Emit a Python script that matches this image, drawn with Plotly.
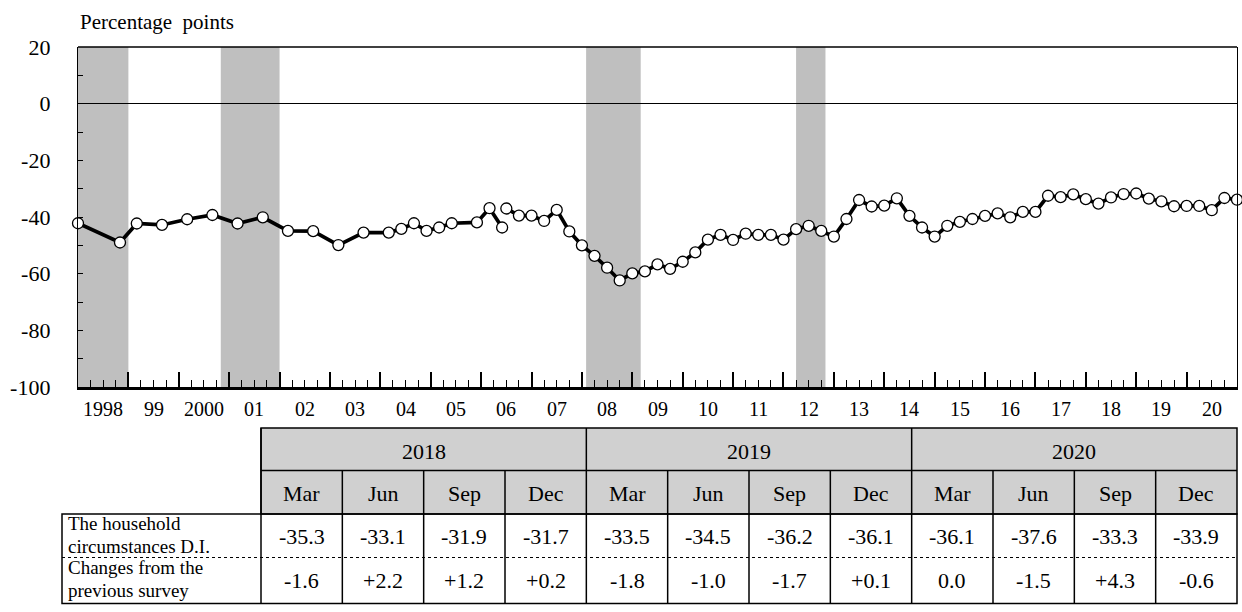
import plotly.graph_objects as go

# ---------------- data ----------------
# older survey series (semi-annual, then quarterly; survey month given)
old_year = [1997, 1998, 1999, 1999, 2000, 2000, 2001, 2001, 2002, 2002, 2003, 2003,
            2004, 2004, 2004, 2004, 2005, 2005, 2005, 2006, 2006]
old_month = [12, 10, 2, 8, 2, 8, 2, 8, 2, 8, 2, 8,
             2, 5, 8, 11, 2, 5, 11, 2, 5]
old_vals = [-42.2, -49.0, -42.3, -42.8, -40.8, -39.3, -42.3, -40.1, -44.9, -45.0, -49.9, -45.5,
            -45.5, -44.2, -42.2, -44.9, -43.7, -42.2, -41.9, -36.9, -43.7]

# current survey series (quarterly, Jun 2006 - Dec 2020)
new_year = [2006, 2006, 2006] + [y for y in range(2007, 2021) for _ in range(4)]
new_month = [6, 9, 12] + [3, 6, 9, 12] * 14
new_vals = [-37.0, -39.5, -39.5,
            -41.4, -37.5, -45.1, -50.0,
            -53.7, -57.9, -62.4, -59.9,
            -59.2, -56.7, -58.3, -55.8,
            -52.5, -48.0, -46.3, -48.1,
            -45.9, -46.3, -46.3, -48.0,
            -44.3, -43.1, -44.9, -46.9,
            -40.7, -34.0, -36.3, -36.0,
            -33.4, -39.6, -43.7, -46.9,
            -43.1, -41.7, -40.7, -39.6,
            -38.7, -40.1, -38.2, -38.2,
            -32.5, -33.0, -32.0, -33.7,
            -35.3, -33.1, -31.9, -31.7,
            -33.5, -34.5, -36.2, -36.1,
            -36.1, -37.6, -33.3, -33.9]

# recession periods (shaded)
rec_start = [(1997, 6), (2000, 11), (2008, 2), (2012, 4)]
rec_end = [(1999, 1), (2002, 1), (2009, 3), (2012, 11)]

year_labels = ["1998", "99", "2000", "01", "02", "03", "04", "05", "06", "07", "08", "09",
               "10", "11", "12", "13", "14", "15", "16", "17", "18", "19", "20"]
first_year = 1998

y_ticks = [20, 0, -20, -40, -60, -80, -100]

# table
table_years = ["2018", "2019", "2020"]
table_months = ["Mar", "Jun", "Sep", "Dec"]
di_vals = ["-35.3", "-33.1", "-31.9", "-31.7", "-33.5", "-34.5", "-36.2", "-36.1",
           "-36.1", "-37.6", "-33.3", "-33.9"]
chg_vals = ["-1.6", "+2.2", "+1.2", "+0.2", "-1.8", "-1.0", "-1.7", "+0.1",
            "0.0", "-1.5", "+4.3", "-0.6"]
row_labels = [["The household", "circumstances D.I."],
              ["Changes from the", "previous survey"]]
y_title = "Percentage&nbsp; points"

# ---------------- figure ----------------
FONT = "Liberation Serif"
W, H = 1242, 612
ML, MR, MT, MB = 78, 5, 47, 225
PW = W - ML - MR
PH = H - MT - MB


def px(x):
    return (x - ML) / PW


def py(y):
    return (H - MB - y) / PH


def t_point(y, m):
    return y + m / 12.0


def t_band(y, m):
    return y + (m - 1) / 12.0


x_min, x_max = first_year, first_year + len(year_labels)

fig = go.Figure()

line_style = dict(color="black", width=3.7)
marker_style = dict(symbol="circle", size=11, color="white",
                    line=dict(color="black", width=1.3))

fig.add_trace(go.Scatter(
    x=[t_point(y, m) for y, m in zip(old_year, old_month)], y=old_vals,
    mode="lines+markers", line=line_style, marker=marker_style,
    cliponaxis=False, showlegend=False, hoverinfo="x+y"))
fig.add_trace(go.Scatter(
    x=[t_point(y, m) for y, m in zip(new_year, new_month)], y=new_vals,
    mode="lines+markers", line=line_style, marker=marker_style,
    cliponaxis=False, showlegend=False, hoverinfo="x+y"))

shapes = []
for (sy, sm), (ey, em) in zip(rec_start, rec_end):
    x0 = max(t_band(sy, sm), x_min)
    x1 = min(t_band(ey, em), x_max)
    shapes.append(dict(type="rect", xref="x", yref="paper", x0=x0, x1=x1, y0=0, y1=1,
                       fillcolor="#bfbfbf", line=dict(width=0), layer="below"))

# top border of plot area
shapes.append(dict(type="line", xref="paper", yref="paper", x0=0, x1=1, y0=1, y1=1,
                   line=dict(color="black", width=1.3)))

annotations = []
# y axis title
annotations.append(dict(text=y_title, xref="paper", yref="paper", x=px(78), y=py(22),
                        xanchor="left", yanchor="middle", showarrow=False,
                        font=dict(family=FONT, size=21, color="black")))
# x axis year labels
for i, lab in enumerate(year_labels):
    annotations.append(dict(text=lab, xref="x", yref="paper", x=first_year + i + 0.5,
                            y=py(409), xanchor="center", yanchor="middle", showarrow=False,
                            font=dict(family=FONT, size=20, color="black")))

# ---------------- table ----------------
T_L, C0_R, T_R = 62, 261, 1237
ROW_Y = [428, 470.5, 514, 557.5, 603.5]
ncol = len(di_vals)
cw = (T_R - C0_R) / ncol
LW = 1.5


def rect(x0, x1, y0, y1, fill=None):
    d = dict(type="rect", xref="paper", yref="paper", x0=px(x0), x1=px(x1),
             y0=py(y0), y1=py(y1), line=dict(color="black", width=LW))
    if fill:
        d["fillcolor"] = fill
    return d


def seg(x0, x1, y0, y1, dash="solid", w=LW):
    return dict(type="line", xref="paper", yref="paper", x0=px(x0), x1=px(x1),
                y0=py(y0), y1=py(y1), line=dict(color="black", width=w, dash=dash))


shapes.append(rect(C0_R, T_R, ROW_Y[0], ROW_Y[2], fill="#d0d0d0"))
shapes.append(rect(T_L, T_R, ROW_Y[2], ROW_Y[4]))
shapes.append(seg(C0_R, T_R, ROW_Y[1], ROW_Y[1]))
shapes.append(seg(T_L, T_R, ROW_Y[3], ROW_Y[3], dash="dot", w=1))
shapes.append(seg(C0_R, C0_R, ROW_Y[0], ROW_Y[4]))
for k in range(1, ncol):
    x = C0_R + k * cw
    top = ROW_Y[0] if k % len(table_months) == 0 else ROW_Y[1]
    shapes.append(seg(x, x, top, ROW_Y[4]))

tfont = dict(family=FONT, size=22, color="black")
for i, yr in enumerate(table_years):
    xc = C0_R + (i * len(table_months) + len(table_months) / 2) * cw
    annotations.append(dict(text=yr, xref="paper", yref="paper", x=px(xc), y=py(451),
                            xanchor="center", yanchor="middle", showarrow=False, font=tfont))
for j in range(ncol):
    xc = C0_R + (j + 0.5) * cw
    annotations.append(dict(text=table_months[j % len(table_months)], xref="paper", yref="paper",
                            x=px(xc), y=py(493), xanchor="center", yanchor="middle",
                            showarrow=False, font=tfont))
    annotations.append(dict(text=di_vals[j], xref="paper", yref="paper",
                            x=px(xc), y=py(536), xanchor="center", yanchor="middle",
                            showarrow=False, font=tfont))
    annotations.append(dict(text=chg_vals[j], xref="paper", yref="paper",
                            x=px(xc), y=py(580), xanchor="center", yanchor="middle",
                            showarrow=False, font=tfont))

label_y = [[523, 546.5], [567, 590.5]]
lfont = dict(family=FONT, size=19, color="black")
for r, lines in enumerate(row_labels):
    for k, txt in enumerate(lines):
        annotations.append(dict(text=txt, xref="paper", yref="paper", x=px(T_L + 4),
                                y=py(label_y[r][k]), xanchor="left", yanchor="middle",
                                showarrow=False, font=lfont))

fig.update_layout(
    width=W, height=H,
    margin=dict(l=ML, r=MR, t=MT, b=MB, pad=0),
    paper_bgcolor="white", plot_bgcolor="white",
    shapes=shapes, annotations=annotations,
    showlegend=False,
    xaxis=dict(range=[x_min, x_max], showgrid=False, zeroline=False,
               showline=True, linecolor="black", linewidth=2.5,
               tickmode="linear", tick0=first_year, dtick=1,
               ticks="inside", ticklen=15, tickwidth=1.5, tickcolor="black",
               showticklabels=False,
               minor=dict(ticks="inside", ticklen=7, tickwidth=1, tickcolor="black",
                          dtick=0.25, tick0=first_year, showgrid=False)),
    yaxis=dict(range=[-100, 20], showgrid=False,
               zeroline=True, zerolinecolor="black", zerolinewidth=1.3,
               showline=True, linecolor="black", linewidth=1.3, mirror=True,
               tickmode="array", tickvals=y_ticks, ticktext=[str(v) for v in y_ticks],
               ticks="inside", ticklen=5, tickwidth=1, tickcolor="black",
               ticklabelstandoff=22,
               tickfont=dict(family=FONT, size=22, color="black"),
               minor=dict(ticks="inside", ticklen=5, tickwidth=1, tickcolor="black",
                          dtick=10, tick0=0, showgrid=False)),
)

fig.write_html("out.html", config={"displayModeBar": False},
               post_script="document.body.style.margin='0px';document.body.style.overflow='hidden';")
